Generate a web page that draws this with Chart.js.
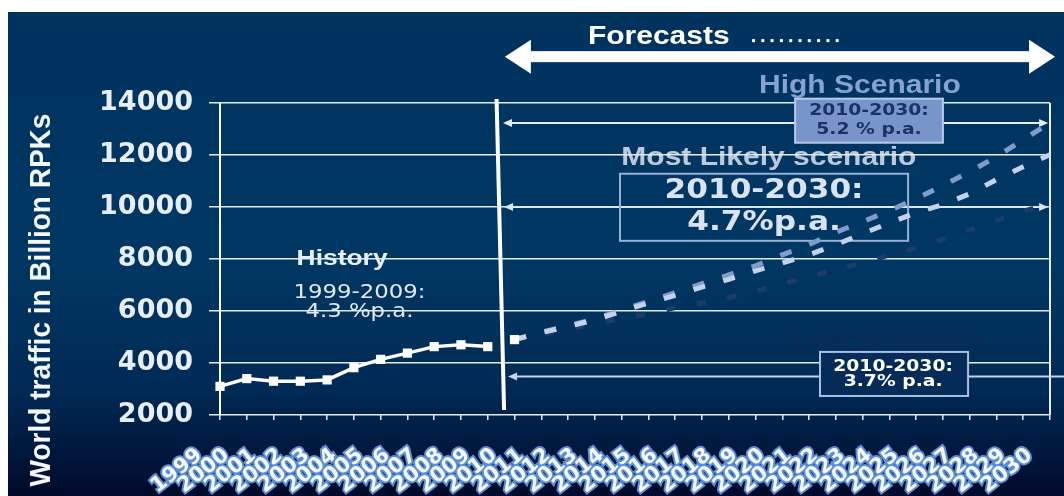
<!DOCTYPE html>
<html><head><meta charset="utf-8">
<script src="https://cdn.jsdelivr.net/npm/chart.js@4.4.1/dist/chart.umd.min.js"></script>
<style>html,body{margin:0;padding:0;background:#fff;overflow:hidden}#wrap{position:relative;width:1064px;height:496px}</style>
</head><body><div id="wrap"><canvas id="c" width="1064" height="496"></canvas></div>
<script>
const N = null;
const years = ['1999','2000','2001','2002','2003','2004','2005','2006','2007','2008','2009','2010','2011','2012','2013','2014','2015','2016','2017','2018','2019','2020','2021','2022','2023','2024','2025','2026','2027','2028','2029','2030'];
const historyRPK = [3100,3400,3300,3300,3350,3820,4140,4380,4630,4700,4630,N,N,N,N,N,N,N,N,N,N,N,N,N,N,N,N,N,N,N,N,N];
const mostLikelyRPK = [N,N,N,N,N,N,N,N,N,N,N,4900,5170,5400,5660,5985,6310,6600,6920,7220,7545,7850,8160,8550,8970,9390,9780,10090,10510,11050,11550,12010];
const highRPK = [N,N,N,N,N,N,N,N,N,N,N,4900,5180,5430,5700,6030,6370,6700,7050,7390,7740,8160,8550,9030,9430,9860,10320,10820,11360,11930,12590,13240];
const lowRPK = [N,N,N,N,N,N,N,N,N,N,N,4900,5100,5300,5500,5720,5880,6130,6300,6510,6760,7030,7330,7580,7850,8150,8430,8760,9120,9480,9830,10150];
const yMin = 2000, yMax = 14000, yStep = 2000;
const yTitle = 'World traffic in Billion RPKs';
const forecastIndex = 11; // 2010

function txt(ctx, s, x, y, font, color, align, sx) {
  ctx.save(); ctx.translate(x, y); ctx.scale(sx || 1.2, 1);
  ctx.font = font; ctx.fillStyle = color; ctx.textAlign = align || 'center'; ctx.textBaseline = 'middle';
  ctx.fillText(s, 0, 0); ctx.restore();
}
function thinArrow(ctx, x1, x2, y, color, lh, rh) {
  ctx.save(); ctx.strokeStyle = color; ctx.fillStyle = color; ctx.lineWidth = 2;
  ctx.beginPath(); ctx.moveTo(x1 + (lh ? 6 : 0), y); ctx.lineTo(x2 - (rh ? 6 : 0), y); ctx.stroke();
  if (lh) { ctx.beginPath(); ctx.moveTo(x1, y); ctx.lineTo(x1 + 9, y - 4); ctx.lineTo(x1 + 9, y + 4); ctx.closePath(); ctx.fill(); }
  if (rh) { ctx.beginPath(); ctx.moveTo(x2, y); ctx.lineTo(x2 - 9, y - 4); ctx.lineTo(x2 - 9, y + 4); ctx.closePath(); ctx.fill(); }
  ctx.restore();
}
function box(ctx, x1, y1, x2, y2, fill, stroke) {
  ctx.save();
  if (fill) { ctx.fillStyle = fill; ctx.fillRect(x1, y1, x2 - x1, y2 - y1); }
  ctx.strokeStyle = stroke; ctx.lineWidth = 2; ctx.strokeRect(x1, y1, x2 - x1, y2 - y1);
  ctx.restore();
}

const deco = {
  id: 'deco',
  beforeDraw(chart) {
    const ctx = chart.ctx, xs = chart.scales.x, ys = chart.scales.y;
    const X = i => xs.getPixelForValue(i), Y = v => ys.getPixelForValue(v);
    ctx.save();
    ctx.fillStyle = '#ffffff'; ctx.fillRect(0, 0, chart.width, chart.height);
    const g = ctx.createLinearGradient(0, 12, 0, chart.height);
    g.addColorStop(0, '#00325e'); g.addColorStop(0.5, '#003863'); g.addColorStop(0.78, '#002a55'); g.addColorStop(1, '#000a2a');
    ctx.fillStyle = g; ctx.fillRect(8, 12, chart.width - 8, chart.height - 12);
    ctx.restore();
    ctx.save(); ctx.translate(ys.left + 42, 300); ctx.rotate(-Math.PI / 2); ctx.scale(1, 1.05);
    ctx.font = 'bold 28px "Liberation Sans", Arial'; ctx.fillStyle = '#f4f7fb'; ctx.textAlign = 'center'; ctx.textBaseline = 'middle';
    ctx.fillText(yTitle, 0, 0); ctx.restore();
    const F25 = 'bold 25px "Liberation Sans", Arial';
    txt(ctx, 'Forecasts', X(13.74), Y(16553), F25, '#ffffff', 'left');
    ctx.save(); ctx.fillStyle = '#ffffff';
    for (let k = 0; k < 10; k++) { const px = X(19.87) + k * 9.3; ctx.fillRect(px, Y(16399) - 1.5, 3, 3); }
    ctx.restore();
    txt(ctx, 'High Scenario', X(23.9), Y(14667), F25, '#86a2d0');
    txt(ctx, 'Most Likely scenario', X(20.5), Y(11895), F25, '#bcc8dc');
    txt(ctx, 'Low scenario', X(24.87), Y(4888), F25, '#0c2b54');
    txt(ctx, 'History', X(4.56), Y(8006), 'bold 22px "Liberation Sans", Arial', '#e8eef6');
    txt(ctx, '1999-2009:', X(5.21), Y(6697), '19px "DejaVu Sans"', '#e2e9f4');
    txt(ctx, '4.3 %p.a.', X(5.21), Y(5966), '19px "DejaVu Sans"', '#e2e9f4');
  },
  beforeDatasetsDraw(chart) {
    const ctx = chart.ctx, xs = chart.scales.x, ys = chart.scales.y, a = chart.chartArea;
    const X = i => xs.getPixelForValue(i), Y = v => ys.getPixelForValue(v);
    ctx.save(); ctx.strokeStyle = '#e8eef6'; ctx.lineWidth = 2;
    ctx.beginPath(); ctx.moveTo(a.right, a.top); ctx.lineTo(a.right, a.bottom); ctx.stroke(); ctx.restore();
    thinArrow(ctx, X(10.57), X(30.93), Y(13230), '#e6edf7', true, true);
    thinArrow(ctx, X(10.61), X(30.93), Y(10000), '#dfe7f3', true, true);
    thinArrow(ctx, X(10.76), chart.width, Y(3482), '#c6d5ec', true, false);
    box(ctx, X(21.48), Y(14166), X(27.0), Y(12472), '#7794cb', '#b8cbe8');
    const F15 = 'bold 15px "DejaVu Sans"';
    txt(ctx, '2010-2030:', X(24.24), Y(13685), F15, '#1b3364', 'center', 1.25);
    txt(ctx, '5.2 % p.a.', X(24.24), Y(12973), F15, '#1b3364', 'center', 1.25);
    box(ctx, X(14.94), Y(11279), X(25.70), Y(8699), null, '#98b0d8');
    const F26 = 'bold 26px "DejaVu Sans"';
    txt(ctx, '2010-2030:', X(20.32), Y(10624), F26, '#dae3f2');
    txt(ctx, '4.7%p.a.', X(20.32), Y(9392), F26, '#dae3f2');
    box(ctx, X(22.41), Y(4426), X(27.94), Y(2732), '#052b59', '#a9bfe0');
    txt(ctx, '2010-2030:', X(25.14), Y(3860), F15, '#ffffff', 'center', 1.25);
    txt(ctx, '3.7% p.a.', X(25.14), Y(3282), F15, '#ffffff', 'center', 1.25);
  },
  afterDatasetsDraw(chart) {
    const ctx = chart.ctx, xs = chart.scales.x, ys = chart.scales.y;
    const X = i => xs.getPixelForValue(i), Y = v => ys.getPixelForValue(v);
    ctx.save(); ctx.strokeStyle = '#ffffff'; ctx.lineWidth = 4;
    ctx.beginPath(); ctx.moveTo(X(10.33), Y(14154)); ctx.lineTo(X(10.61), Y(2193)); ctx.stroke();
    const xl = X(10.64), xr = X(31.19), yc = Y(15783);
    ctx.fillStyle = '#ffffff';
    ctx.fillRect(xl + 24, yc - 5.5, xr - xl - 48, 11);
    ctx.beginPath(); ctx.moveTo(xl, yc); ctx.lineTo(xl + 26, yc - 17); ctx.lineTo(xl + 26, yc + 17); ctx.closePath(); ctx.fill();
    ctx.beginPath(); ctx.moveTo(xr, yc); ctx.lineTo(xr - 26, yc - 17); ctx.lineTo(xr - 26, yc + 17); ctx.closePath(); ctx.fill();
    ctx.restore();
  }
};

new Chart(document.getElementById('c'), {
  type: 'line',
  data: {
    labels: years,
    datasets: [
      { label: 'Low scenario', data: lowRPK, borderColor: '#1a3d6c', borderWidth: 5, borderDash: [9, 22], pointRadius: 0, tension: 0, clip: false, order: 3 },
      { label: 'High Scenario', data: highRPK, borderColor: '#7f9ccb', borderWidth: 5, borderDash: [12, 19], pointRadius: 0, tension: 0, clip: false, order: 2 },
      { label: 'Most Likely scenario', data: mostLikelyRPK, borderColor: '#c4d2ea', borderWidth: 5, borderDash: [12, 19], tension: 0, clip: false, order: 1,
        pointStyle: 'rect', pointRadius: c => c.dataIndex === forecastIndex ? 6.5 : 0, pointBackgroundColor: '#ffffff', pointBorderWidth: 0 },
      { label: 'History', data: historyRPK, borderColor: '#ffffff', borderWidth: 3.5, tension: 0, clip: false, order: 0,
        pointStyle: 'rect', pointRadius: 6.5, pointBackgroundColor: '#ffffff', pointBorderWidth: 0 }
    ]
  },
  options: {
    responsive: false, animation: false, events: [],
    layout: { padding: { top: 103, right: 14, left: 0, bottom: 0 } },
    plugins: { legend: { display: false }, tooltip: { enabled: false }, title: { display: false } },
    scales: {
      x: {
        offset: false,
        grid: { drawOnChartArea: false, drawTicks: true, tickLength: 5, color: '#e8eef8', lineWidth: 1.5 },
        border: { display: false },
        ticks: { autoSkip: false, maxRotation: 38, minRotation: 38, padding: 23, labelOffset: -20, color: '#f6f9ff',
          textStrokeColor: '#5d8fd6', textStrokeWidth: 4, font: { family: 'DejaVu Sans', weight: 'bold', size: 21 } },
        afterFit(s) { s.height = 81; s.paddingLeft = 0; s.paddingRight = 0; }
      },
      y: {
        min: yMin, max: yMax,
        ticks: { stepSize: yStep, color: '#e8eef8', padding: 16, font: { family: 'DejaVu Sans', weight: 'bold', size: 27 },
          callback: v => String(v) },
        grid: { color: '#e3eaf4', lineWidth: 1.5, tickLength: 11 },
        border: { display: true, color: '#ffffff', width: 2 },
        afterFit(s) { s.width = 220; s.paddingTop = 0; s.paddingBottom = 0; }
      }
    }
  },
  plugins: [deco]
});
</script></body></html>
